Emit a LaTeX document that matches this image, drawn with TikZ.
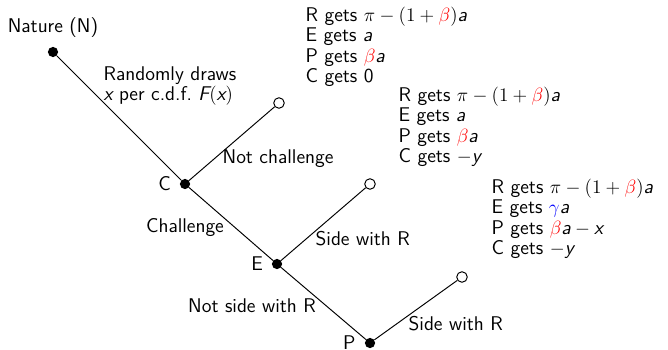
\documentclass[tikz,border=0pt]{standalone}
\usepackage{amsmath}
\usepackage{tikz}
\usepackage{color}
\renewcommand{\familydefault}{\sfdefault}
\newcommand{\sv}[1]{\mbox{\sffamily\itshape #1}}

\begin{document}
\begin{tikzpicture}[x=0.625pt,y=-0.625pt,font=\fontsize{12.4}{12.8}\selectfont,
  dot/.style={fill,circle,inner sep=0pt,minimum size=6.4pt},
  leaf/.style={draw,fill=white,circle,inner sep=0pt,minimum size=6.6pt,semithick},
  pay/.style={anchor=west,align=left}]
  \useasboundingbox (0,0) rectangle (668,349);

  \node (N) at (53,52) [dot] {};
  \node (C) at (185,184) [dot] {};
  \node (E) at (277,264) [dot] {};
  \node (P) at (370,343) [dot] {};
  \node (C1) at (279,103) [leaf] {};
  \node (E1) at (370,184) [leaf] {};
  \node (P1) at (462,277) [leaf] {};

\draw[semithick]
   (N) to (C) to (E) to (P)
   (C) to (C1)
   (E) to (E1)
   (P) to (P1);

 \draw (53,28) node {Nature (N)}
    (C) node [left=5.3pt] {C}
    (E) node [left=5.3pt] {E}
    (P) node [left=5.6pt] {P};

\draw (98,86) node [anchor=west,align=left] {Randomly draws\\ $\sv{x}$ per c.d.f.\ $\sv{F}(\sv{x})$};
\draw (217,159) node [anchor=west] {Not challenge};
\draw (185,228) node {Challenge};
\draw (310,239) node [anchor=west] {Side with R};
\draw (252,306) node {Not side with R};
\draw (403,324) node [anchor=west] {Side with R};

\draw (300,47) node [pay] {R gets $\pi-(1+\textcolor{red}{\beta})\sv{a}$\\
  E gets $\sv{a}$\\ P gets $\textcolor{red}{\beta}\sv{a}$\\ C gets 0};
\draw (393,127) node [pay] {R gets $\pi-(1+\textcolor{red}{\beta})\sv{a}$\\
  E gets $\sv{a}$\\ P gets $\textcolor{red}{\beta}\sv{a}$\\ C gets $-\sv{y}$};
\draw (486,219) node [pay] {R gets $\pi-(1+\textcolor{red}{\beta})\sv{a}$\\
  E gets $\textcolor{blue}{\gamma}\sv{a}$\\ P gets $\textcolor{red}{\beta}\sv{a}-\sv{x}$\\ C gets $-\sv{y}$};

\end{tikzpicture}
\end{document}
